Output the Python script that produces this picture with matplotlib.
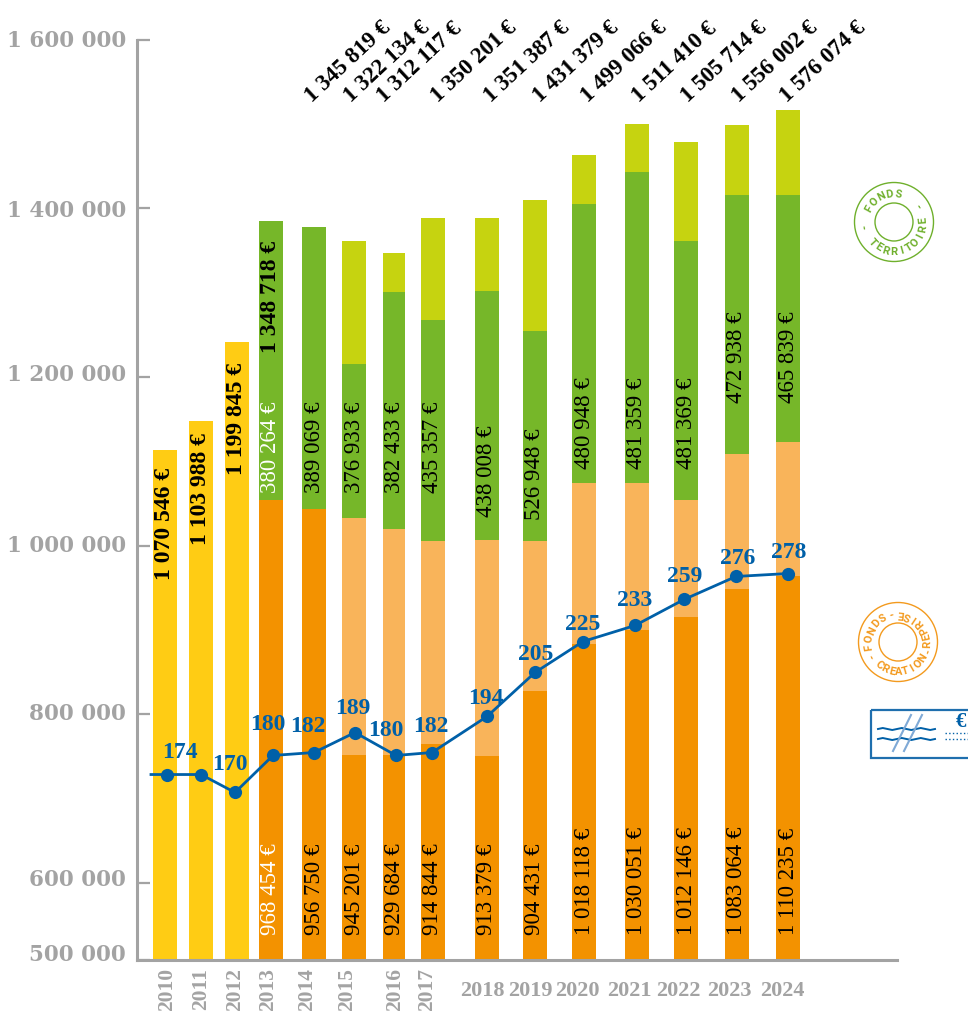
import numpy as np
import matplotlib
matplotlib.use("Agg")
import matplotlib.pyplot as plt
from matplotlib.patches import Circle, Rectangle
from matplotlib.transforms import ScaledTranslation

# values, in units of the left axis
years = [2010, 2011, 2012, 2013, 2014, 2015, 2016, 2017, 2018, 2019, 2020, 2021, 2022, 2023, 2024]
yellow_top = [1113900, 1148300, 1240800] + [np.nan] * 12
dark_top = [np.nan, np.nan, np.nan, 1053500, 1042800, 751200, 752300, 764200,
            750000, 828200, 882800, 900500, 915900, 948000, 963400]
light_top = [np.nan, np.nan, np.nan, 1053500, 1042800, 1033300, 1019100, 1006000,
             1007200, 1006000, 1074800, 1074800, 1053500, 1108000, 1123400]
green_top = [np.nan, np.nan, np.nan, 1385400, 1378300, 1214700, 1301200, 1266900,
             1302400, 1255000, 1404400, 1443500, 1361700, 1416200, 1416200]
lime_top = [np.nan, np.nan, np.nan, 1385400, 1378300, 1361700, 1346300, 1387800,
            1387800, 1409500, 1462500, 1500400, 1477900, 1499200, 1517000]
sliver_2019 = 1410300

counts = [174, 174, 170, 180, 182, 189, 180, 182, 194, 205, 225, 233, 259, 276, 278]
count_height = [728600, 728600, 707300, 751200, 754700, 778400, 751200, 754700,
                797400, 849600, 886300, 905300, 936100, 963400, 966900]

total_yellow = ["1 070 546 €", "1 103 988 €", "1 199 845 €", "1 348 718 €"]
total_top = ["1 345 819 €", "1 322 134 €", "1 312 117 €", "1 350 201 €", "1 351 387 €", "1 431 379 €",
             "1 499 066 €", "1 511 410 €", "1 505 714 €", "1 556 002 €", "1 576 074 €"]
green_labels = ["380 264 €", "389 069 €", "376 933 €", "382 433 €", "435 357 €", "438 008 €",
                "526 948 €", "480 948 €", "481 359 €", "481 369 €", "472 938 €", "465 839 €"]
dark_labels = ["968 454 €", "956 750 €", "945 201 €", "929 684 €", "914 844 €", "913 379 €",
               "904 431 €", "1 018 118 €", "1 030 051 €", "1 012 146 €", "1 083 064 €", "1 110 235 €"]
tick_vals = [509300, 600000, 800000, 1000000, 1200000, 1400000, 1600000]
tick_labels = ["500 000", "600 000", "800 000", "1 000 000", "1 200 000", "1 400 000", "1 600 000"]

# layout, in pixels of the 968x1012 picture
bar_x = [165, 201, 237, 271, 314, 354, 394, 433, 487, 535, 584, 637, 686, 737, 788]
bar_w = [24, 24, 24, 24, 24, 24, 22, 24, 24, 24, 24, 24, 24, 24, 24]
line_x = [167, 201, 235, 273, 314, 355, 396, 432, 487, 535, 583, 635, 684, 736, 788]
count_xy = [(180, 752), (None, None), (230, 765), (268, 725), (308, 727), (353, 709), (386, 731),
            (431, 726), (486, 698), (536, 655), (583, 624), (635, 601), (685, 576), (738, 558), (789, 553)]
yellow_start = [580, 545, 475, 353]
green_start = [493, 493, 493, 493, 493, 517, 520, 469, 469, 469, 403, 403]
top_start = [(315, 107), (354, 107), (387, 107), (441, 107), (494, 107), (543, 107),
             (591, 107), (642, 107), (691, 107), (742, 107), (790, 107)]
year_x = [167, 201, 235, 268, 307, 347, 395, 427, 482, 530, 577, 629, 678, 729, 782]
tick_dy = [-8, -6, -4, -3, -5, -1, -2]

YELLOW = "#FFCC14"
DARK = "#F39200"
LIGHT = "#F9B45A"
GREEN = "#76B729"
LIME = "#C6D310"
BLUE = "#0060A8"
GRAY = "#A3A3A3"
SERIF = "Liberation Serif"

fig = plt.figure(figsize=(9.68, 10.12), dpi=100)
ax = fig.add_axes([137 / 968, 51.5 / 1012, 760 / 968, 920 / 1012])
ax.set_xlim(137, 897)
ax.set_ylim(509300, 1600000)
for s in ["top", "right"]:
    ax.spines[s].set_visible(False)
for s in ["left", "bottom"]:
    ax.spines[s].set_color(GRAY)
    ax.spines[s].set_linewidth(2.2)

# stacked bars
ax.bar(bar_x, np.array(yellow_top) - 509300, bar_w, bottom=509300, color=YELLOW)
ax.bar(bar_x, np.array(dark_top) - 509300, bar_w, bottom=509300, color=DARK)
ax.bar(bar_x, np.array(light_top) - np.array(dark_top), bar_w, bottom=dark_top, color=LIGHT)
ax.bar(bar_x, np.array(green_top) - np.array(light_top), bar_w, bottom=light_top, color=GREEN)
ax.bar(bar_x, np.array(lime_top) - np.array(green_top), bar_w, bottom=green_top, color=LIME)
ax.bar(bar_x[9], sliver_2019 - lime_top[9], bar_w[9], bottom=lime_top[9], color=GREEN)

# the line starts a little left of the first bar
ax.plot([151] + line_x, [count_height[0]] + count_height, color=BLUE, lw=2, zorder=4)
ax.plot(line_x, count_height, "o", color=BLUE, ms=9.5, mew=0, zorder=5)

ax.set_xticks([])
ax.set_yticks(tick_vals)
ax.set_yticklabels(tick_labels, family="DejaVu Serif", weight="bold", size=15.5, color=GRAY)
ax.tick_params(axis="y", direction="in", length=9.5, width=1.6, color=GRAY, pad=8)
for lab, dy in zip(ax.get_yticklabels(), tick_dy):
    lab.set_transform(lab.get_transform() + ScaledTranslation(0, -dy / 100, fig.dpi_scale_trans))

# overlay in picture pixels for all the loose text and the stamps
deco = fig.add_axes([0, 0, 1, 1], facecolor="none")
deco.set_xlim(0, 968)
deco.set_ylim(1012, 0)
deco.axis("off")

for i, lab in enumerate(total_yellow):
    deco.text(bar_x[i], yellow_start[i], lab, rotation=90, ha="center", va="bottom",
              family=SERIF, weight="bold", size=17, color="black")
for i, lab in enumerate(green_labels):
    deco.text(bar_x[i + 3], green_start[i], lab, rotation=90, ha="center", va="bottom",
              family=SERIF, size=16.5, color="white" if i == 0 else "black")
for i, lab in enumerate(dark_labels):
    deco.text(bar_x[i + 3], 935, lab, rotation=90, ha="center", va="bottom",
              family=SERIF, size=16.5, color="white" if i == 0 else "black")
for (x, y), lab in zip(top_start, total_top):
    deco.text(x, y, lab, rotation=43, ha="left", va="bottom", rotation_mode="anchor",
              family=SERIF, weight="bold", size=16.5, color="black")
for (x, y), c in zip(count_xy, counts):
    if x is not None:
        deco.text(x, y, str(c), ha="center", va="center", family=SERIF, weight="bold", size=17, color=BLUE)
for i, (x, yr) in enumerate(zip(year_x, years)):
    if yr < 2018:
        deco.text(x, 968, str(yr), rotation=90, ha="center", va="top", family=SERIF, weight="bold",
                  size=15.5, color=GRAY)
    else:
        deco.text(x, 991, str(yr), ha="center", va="center", family=SERIF, weight="bold",
                  size=16, color=GRAY)


def arc_text(cx, cy, r, text, a0, a1, tops_out, color):
    angles = np.linspace(a0, a1, len(text))
    for ch, a in zip(text, angles):
        x = cx + r * np.cos(np.radians(a))
        y = cy - r * np.sin(np.radians(a))
        rot = a - 90 if tops_out else a + 90
        deco.text(x, y, ch, rotation=rot, ha="center", va="center", rotation_mode="anchor",
                  family="Roboto", weight="bold", size=8, color=color)


def stamp(cx, cy, color):
    deco.add_patch(Circle((cx, cy), 39.5, fill=False, ec=color, lw=1))
    deco.add_patch(Circle((cx, cy), 19, fill=False, ec=color, lw=1))


stamp(894, 223, "#6FB02C")
arc_text(894, 223, 29, "FONDS", 151, 82, True, "#6FB02C")
arc_text(894, 223, 29, "TERRITOIRE", 222, 365, False, "#6FB02C")
arc_text(894, 223, 29, "-", 188, 188, True, "#6FB02C")
arc_text(894, 223, 29, "-", 35, 35, True, "#6FB02C")

stamp(898, 643, "#F39A1E")
arc_text(898, 643, 29, "FONDS", 188, 122, True, "#F39A1E")
arc_text(898, 643, 29, "CREATION", 229, 328, False, "#F39A1E")
arc_text(898, 643, 29, "REPRISE", -2, 85, False, "#F39A1E")
arc_text(898, 643, 29, "-", 207, 207, True, "#F39A1E")
arc_text(898, 643, 29, "-", 104, 104, True, "#F39A1E")
arc_text(898, 643, 29, "-", 343, 343, True, "#F39A1E")

# cheque, runs off the right edge
deco.add_patch(Rectangle((871, 711), 110, 48, fill=False, ec="#1F6FAE", lw=1.6, clip_on=True))
wiggle = [0, -1, 0, 1, 0, -1, 0, 1, 0, -1, 0, 1, 0]
wave_x = np.linspace(878, 935, len(wiggle))
deco.plot(wave_x, np.array(wiggle) + 730, color=BLUE, lw=1.4)
deco.plot(wave_x, np.array(wiggle) + 740, color=BLUE, lw=1.4)
deco.plot([893, 911], [752, 716], color="#7FA9D6", lw=1.5)
deco.plot([904, 922], [752, 716], color="#7FA9D6", lw=1.5)
deco.plot([945, 968], [734, 734], color=BLUE, lw=1, ls=":")
deco.plot([945, 968], [740, 740], color=BLUE, lw=1, ls=":")
deco.text(961, 722, "€", ha="center", va="center", family=SERIF, weight="bold", size=15, color=BLUE)

fig.savefig("out.png", dpi=100)
